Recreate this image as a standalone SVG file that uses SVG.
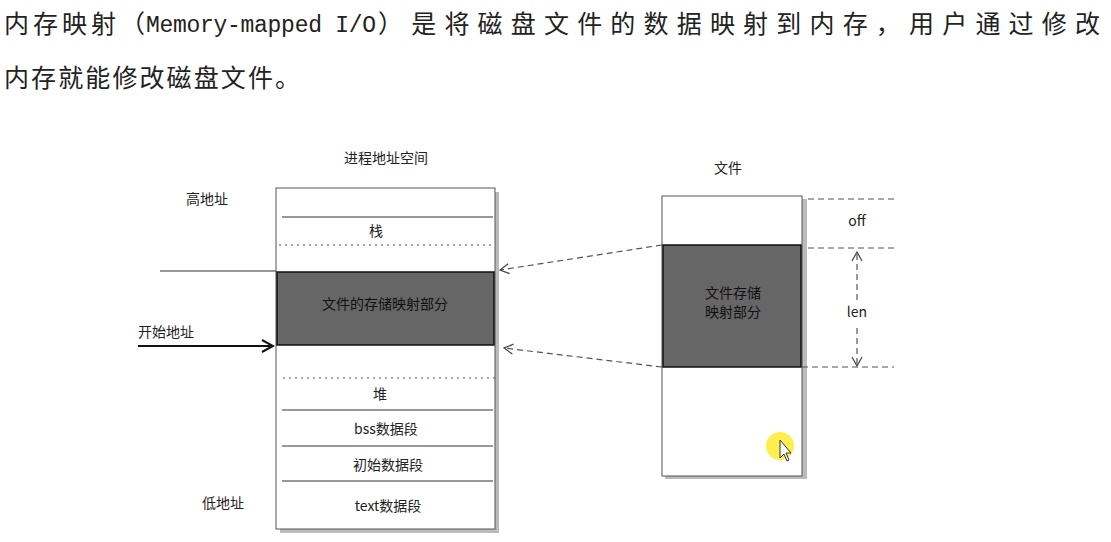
<svg xmlns="http://www.w3.org/2000/svg" width="1111" height="542" viewBox="0 0 1111 542">
<style>
.t{font-family:"Noto Sans CJK SC","Liberation Sans",sans-serif;fill:#222}
.h{font-size:25px}
.s{font-size:14px}
.box{fill:#fff;stroke:#555;stroke-width:1}
.sh{fill:#bbb}
.dk{fill:#666;stroke:#111;stroke-width:1.5}
.ln{stroke:#333;stroke-width:1.2}
.dot{stroke:#555;stroke-width:1.2;stroke-dasharray:2 4}
.dash{stroke:#555;stroke-width:1.2;stroke-dasharray:6 4;fill:none}
</style>
<defs>
<marker id="ao" markerWidth="12" markerHeight="12" refX="10" refY="6" orient="auto" markerUnits="userSpaceOnUse"><path d="M1,1 L10,6 L1,11" fill="none" stroke="#444" stroke-width="1.2"/></marker>
<marker id="ab" markerWidth="14" markerHeight="14" refX="12" refY="7" orient="auto" markerUnits="userSpaceOnUse"><path d="M1,1 L12,7 L1,13" fill="none" stroke="#111" stroke-width="2"/></marker>
</defs>
<rect width="1111" height="542" fill="#fff"/>
<text class="t h" x="4" y="33" textLength="141" lengthAdjust="spacing">内存映射（</text>
<text x="146" y="32" font-family="Liberation Mono,monospace" font-size="23" fill="#222" textLength="230" lengthAdjust="spacing">Memory-mapped I/O</text>
<text class="t h" x="378" y="33" textLength="722" lengthAdjust="spacing">）是将磁盘文件的数据映射到内存，用户通过修改</text>
<text class="t h" x="4" y="87" textLength="296" lengthAdjust="spacing">内存就能修改磁盘文件。</text>
<g id="proc">
<text class="t s" x="386" y="163" text-anchor="middle">进程地址空间</text>
<rect class="sh" x="280" y="192" width="219" height="341"/>
<rect class="box" x="276" y="188" width="219" height="341"/>
<line class="ln" x1="282" y1="217" x2="493" y2="217"/>
<text class="t s" x="376" y="236" text-anchor="middle">栈</text>
<line class="dot" x1="279" y1="245" x2="493" y2="245"/>
<rect class="dk" x="277" y="272" width="217" height="73"/>
<text class="t s" x="385" y="309" text-anchor="middle" style="fill:#111">文件的存储映射部分</text>
<line class="dot" x1="283" y1="378" x2="495" y2="378"/>
<text class="t s" x="380" y="399" text-anchor="middle">堆</text>
<line class="ln" x1="282" y1="410" x2="493" y2="410"/>
<text class="t s" x="386" y="434" text-anchor="middle">bss数据段</text>
<line class="ln" x1="282" y1="446" x2="493" y2="446"/>
<text class="t s" x="388" y="470" text-anchor="middle">初始数据段</text>
<line class="ln" x1="282" y1="481" x2="493" y2="481"/>
<text class="t s" x="388" y="511" text-anchor="middle">text数据段</text>
</g>
<g id="labels">
<text class="t s" x="186" y="204">高地址</text>
<text class="t s" x="138" y="337">开始地址</text>
<text class="t s" x="202" y="508">低地址</text>
</g>
<g id="file">
<text class="t s" x="728" y="173" text-anchor="middle">文件</text>
<rect class="sh" x="665" y="199" width="142" height="280"/>
<rect class="box" x="662" y="196" width="140" height="280"/>
<rect class="dk" x="663" y="245" width="138" height="122"/>
<text class="t s" x="733" y="298" text-anchor="middle" style="fill:#111">文件存储</text>
<text class="t s" x="733" y="317" text-anchor="middle" style="fill:#111">映射部分</text>
<text class="t s" x="857" y="226" text-anchor="middle">off</text>
<text class="t s" x="857" y="317" text-anchor="middle">len</text>
</g>
<g id="connectors">
<line class="ln" x1="160" y1="271" x2="276" y2="271"/>
<line x1="138" y1="346" x2="273" y2="346" stroke="#111" stroke-width="2" marker-end="url(#ab)"/>
<line class="dash" x1="662" y1="245" x2="500" y2="270" marker-end="url(#ao)"/>
<line class="dash" x1="662" y1="367" x2="504" y2="348" marker-end="url(#ao)"/>
<line class="dash" x1="808" y1="199" x2="898" y2="199"/>
<line class="dash" x1="808" y1="248" x2="896" y2="248"/>
<line class="dash" x1="802" y1="367" x2="894" y2="367"/>
<line class="dash" x1="857" y1="300" x2="857" y2="252" marker-end="url(#ao)"/>
<line class="dash" x1="857" y1="328" x2="857" y2="366" marker-end="url(#ao)"/>
</g>
<circle cx="780" cy="446" r="14" fill="#ffec3a" opacity="0.9"/>
<path d="M780,440 L780,458 L784,454 L787,461 L789,460 L786,453 L791,453 Z" fill="#fff" stroke="#333" stroke-width="1"/>
</svg>
